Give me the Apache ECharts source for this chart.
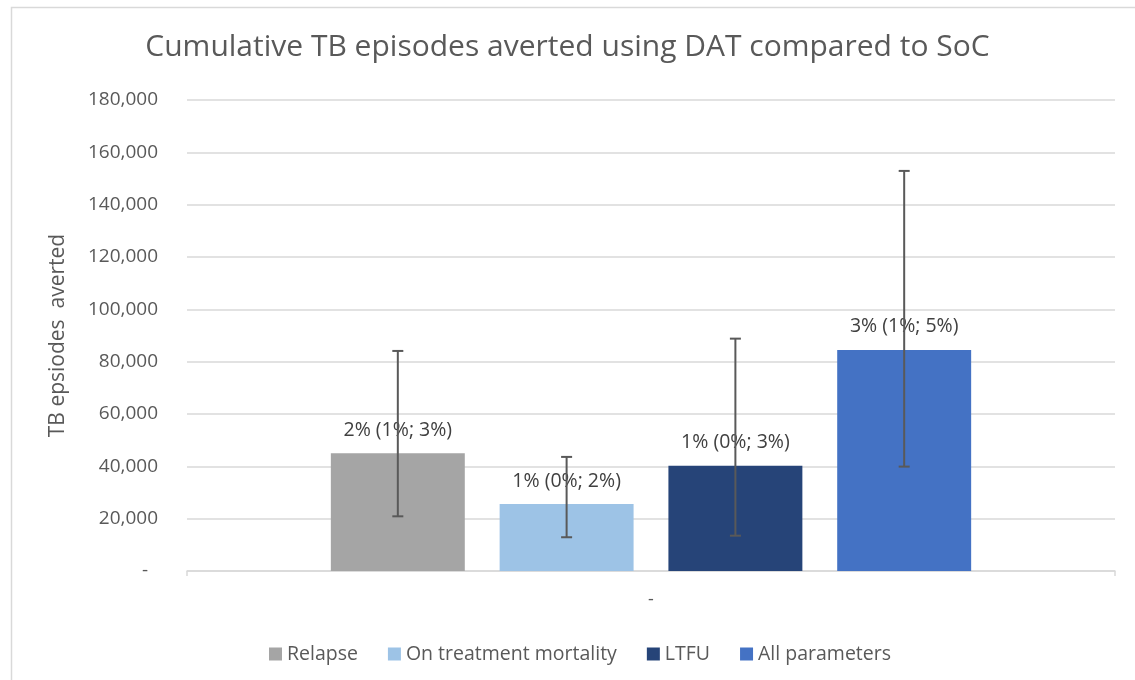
<!DOCTYPE html>
<html>
<head>
<meta charset="utf-8">
<title>Cumulative TB episodes averted</title>
<script src="https://cdn.jsdelivr.net/npm/echarts@6/dist/echarts.min.js"></script>
<style>
  html, body { margin: 0; padding: 0; background: #fff; }
  #chart { width: 1135px; height: 680px; }
</style>
</head>
<body>
<div id="chart"></div>
<script>
// data
const categories = ['-'];
const seriesNames = ['Relapse', 'On treatment mortality', 'LTFU', 'All parameters'];
const averted = [45000, 25600, 40200, 84500];
const errLow = [20900, 12900, 13500, 39900];
const errHigh = [84100, 43600, 88800, 152900];
const pctLabels = ['2% (1%; 3%)', '1% (0%; 2%)', '1% (0%; 3%)', '3% (1%; 5%)'];
const colors = ['#A5A5A5', '#9DC3E6', '#264478', '#4472C4'];

const FONT = 'Open Sans';
const CAT_GAP = 0.31; // barCategoryGap
const BAR_GAP = 0.26; // barGap

const chart = echarts.init(document.getElementById('chart'));

// bar series, one per parameter
const barSeries = seriesNames.map((name, i) => ({
  name: name,
  type: 'bar',
  barCategoryGap: (CAT_GAP * 100) + '%',
  barGap: (BAR_GAP * 100) + '%',
  itemStyle: { color: colors[i] },
  label: {
    show: true,
    position: 'top',
    distance: 13,
    color: '#404040',
    fontFamily: FONT,
    fontSize: 19.5,
    formatter: () => pctLabels[i]
  },
  z: 2,
  data: [averted[i]]
}));

// error bars drawn over the bars
const errData = seriesNames.map((n, i) => [0, errLow[i], errHigh[i], i]);
const errSeries = {
  type: 'custom',
  name: 'err',
  z: 5,
  silent: true,
  renderItem: (params, api) => {
    const n = seriesNames.length;
    const idx = api.value(3);
    const band = api.size([1, 0])[0];
    const usable = band * (1 - CAT_GAP);
    const bw = usable / (n + (n - 1) * BAR_GAP);
    const offset = -usable / 2 + bw / 2 + idx * bw * (1 + BAR_GAP);
    const lo = api.coord([api.value(0), api.value(1)]);
    const hi = api.coord([api.value(0), api.value(2)]);
    const x = lo[0] + offset;
    const cap = 5.5;
    const style = { stroke: '#595959', lineWidth: 2 };
    return {
      type: 'group',
      children: [
        { type: 'line', shape: { x1: x, y1: lo[1], x2: x, y2: hi[1] }, style: style },
        { type: 'line', shape: { x1: x - cap, y1: hi[1], x2: x + cap, y2: hi[1] }, style: style },
        { type: 'line', shape: { x1: x - cap, y1: lo[1], x2: x + cap, y2: lo[1] }, style: style }
      ]
    };
  },
  data: errData
};

const option = {
  backgroundColor: '#fff',
  animation: false,
  title: {
    text: 'Cumulative TB episodes averted using DAT compared to SoC',
    left: 'center',
    top: 27,
    textStyle: { fontFamily: FONT, fontSize: 30, fontWeight: 'normal', color: '#595959' }
  },
  graphic: [{
    type: 'rect',
    shape: { x: 11.5, y: 7.5, width: 1140, height: 700 },
    style: { fill: 'none', stroke: '#D9D9D9', lineWidth: 1.5 },
    silent: true,
    z: -1
  }],
  legend: {
    data: seriesNames,
    left: 264,
    top: 639,
    itemWidth: 13,
    itemHeight: 13,
    itemGap: 30,
    icon: 'rect',
    textStyle: { fontFamily: FONT, fontSize: 19.5, color: '#595959' }
  },
  grid: { left: 187, right: 20, top: 100, bottom: 109 },
  xAxis: {
    type: 'category',
    data: categories,
    axisLine: { lineStyle: { color: '#D9D9D9', width: 1.5 } },
    axisTick: { show: true, length: 5, lineStyle: { color: '#D9D9D9', width: 1.5 } },
    axisLabel: { margin: 20, fontFamily: FONT, fontSize: 18, color: '#595959' }
  },
  yAxis: {
    type: 'value',
    min: 0,
    max: 180000,
    interval: 20000,
    name: 'TB epsiodes  averted',
    nameLocation: 'middle',
    nameGap: 118,
    nameTextStyle: { fontFamily: FONT, fontSize: 21, color: '#595959' },
    axisLine: { show: false },
    axisTick: { show: false },
    splitLine: { lineStyle: { color: '#D9D9D9', width: 1.5 } },
    axisLabel: {
      margin: 29,
      fontFamily: FONT,
      fontSize: 19,
      color: '#595959',
      formatter: v => (v === 0 ? '-  ' : v.toLocaleString('en-US'))
    }
  },
  series: barSeries.concat([errSeries])
};

chart.setOption(option);
</script>
</body>
</html>
